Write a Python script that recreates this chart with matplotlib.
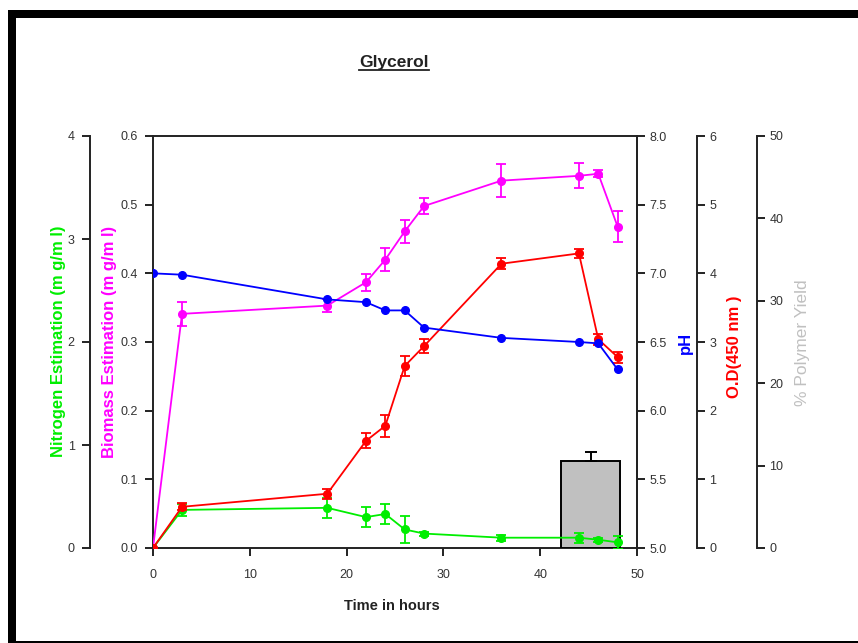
import matplotlib
matplotlib.use("Agg")
import matplotlib.pyplot as plt
from matplotlib.lines import Line2D
from matplotlib.patches import Rectangle

plt.rcParams['font.family'] = ['Liberation Sans', 'DejaVu Sans']

# ---------------- data ----------------
time_h = [0, 3, 18, 22, 24, 26, 28, 36, 44, 46, 48]

biomass = [0.0, 0.341, 0.353, 0.387, 0.420, 0.461, 0.498, 0.535, 0.542, 0.545, 0.468]
biomass_err = [0.0, 0.017, 0.010, 0.012, 0.017, 0.017, 0.011, 0.024, 0.018, 0.005, 0.023]

ph = [7.00, 6.99, 6.81, 6.79, 6.73, 6.73, 6.605, 6.53, 6.50, 6.49, 6.30]

od = [0.0, 0.60, 0.79, 1.56, 1.78, 2.65, 2.94, 4.14, 4.29, 3.04, 2.78]
od_err = [0.0, 0.05, 0.07, 0.11, 0.16, 0.15, 0.10, 0.08, 0.07, 0.08, 0.08]

nitrogen = [0.0, 0.37, 0.39, 0.30, 0.33, 0.18, 0.14, 0.10, 0.10, 0.08, 0.055]
nitrogen_err = [0.0, 0.055, 0.10, 0.10, 0.10, 0.13, 0.02, 0.03, 0.05, 0.02, 0.06]

polymer_time = [45.2]
polymer_yield = [10.5]
polymer_err = [1.15]
polymer_width = 6.0

x_ticks = [0, 10, 20, 30, 40, 50]
biomass_ticks = [0.0, 0.1, 0.2, 0.3, 0.4, 0.5, 0.6]
nitrogen_ticks = [0, 1, 2, 3, 4]
ph_ticks = [5.0, 5.5, 6.0, 6.5, 7.0, 7.5, 8.0]
od_ticks = [0, 1, 2, 3, 4, 5, 6]
polymer_ticks = [0, 10, 20, 30, 40, 50]

# ---------------- figure ----------------
W, H = 858, 643
fig = plt.figure(figsize=(W / 100, H / 100), dpi=100)
fig.patch.set_facecolor('white')

# window-like black frame (top, left thick; bottom thin)
fig.add_artist(Rectangle((8 / W, 1 - 18 / H), 1 - 8 / W, 8 / H, transform=fig.transFigure,
                         facecolor='black', edgecolor='none'))
fig.add_artist(Rectangle((8 / W, 0), 8 / W, 1 - 10 / H, transform=fig.transFigure,
                         facecolor='black', edgecolor='none'))
fig.add_artist(Rectangle((8 / W, 0), 1 - 8 / W, 2.5 / H, transform=fig.transFigure,
                         facecolor='black', edgecolor='none'))

left, right, bottom, top = 153, 637, 548, 136
ax = fig.add_axes([left / W, 1 - bottom / H, (right - left) / W, (bottom - top) / H])
axw = right - left

tick_color = '#333333'
spine_lw = 1.4
tick_fs = 9


def style_axis(a, side, pad=5):
    a.tick_params(axis='y', direction='out', length=6, width=1.4, colors=tick_color,
                  labelsize=tick_fs, pad=pad, left=(side == 'left'), labelleft=(side == 'left'),
                  right=(side == 'right'), labelright=(side == 'right'))
    a.tick_params(axis='y', color='#222222')


# main axis: biomass
ax.set_xlim(0, 50)
ax.set_ylim(0, 0.6)
ax.set_xticks(x_ticks)
ax.set_yticks(biomass_ticks)
ax.set_yticklabels(['%.1f' % v for v in biomass_ticks])
ax.tick_params(axis='x', direction='out', length=6, width=1.4, color='#222222',
               labelcolor=tick_color, labelsize=tick_fs, pad=9)
style_axis(ax, 'left')
for s in ax.spines.values():
    s.set_linewidth(spine_lw)
    s.set_color('#222222')

# polymer axis (bar, beneath other lines)
axp = ax.twinx()
axp.set_ylim(0, 50)
axp.set_yticks(polymer_ticks)
axp.spines['right'].set_position(('axes', (757 - left) / axw))
for k in ['left', 'top', 'bottom']:
    axp.spines[k].set_visible(False)
axp.spines['right'].set_linewidth(spine_lw)
axp.spines['right'].set_color('#222222')
style_axis(axp, 'right', pad=3)
axp.bar(polymer_time, polymer_yield, width=polymer_width, color='#c0c0c0',
        edgecolor='black', linewidth=1.4, zorder=1)
axp.errorbar(polymer_time, polymer_yield, yerr=[[0], polymer_err], fmt='none',
             ecolor='black', elinewidth=1.4, capsize=4, capthick=1.4, zorder=2)

# nitrogen axis (outer left)
axn = ax.twinx()
axn.set_ylim(0, 4)
axn.set_yticks(nitrogen_ticks)
axn.spines['left'].set_visible(True)
axn.spines['left'].set_position(('axes', (90 - left) / axw))
for k in ['right', 'top', 'bottom']:
    axn.spines[k].set_visible(False)
axn.spines['left'].set_linewidth(spine_lw)
axn.spines['left'].set_color('#222222')
axn.yaxis.set_label_position('left')
axn.yaxis.set_ticks_position('left')
style_axis(axn, 'left')

# OD axis
axo = ax.twinx()
axo.set_ylim(0, 6)
axo.set_yticks(od_ticks)
axo.spines['right'].set_position(('axes', (697 - left) / axw))
for k in ['left', 'top', 'bottom']:
    axo.spines[k].set_visible(False)
axo.spines['right'].set_linewidth(spine_lw)
axo.spines['right'].set_color('#222222')
style_axis(axo, 'right', pad=3)

# pH axis (right spine of main box)
axh = ax.twinx()
axh.set_ylim(5.0, 8.0)
axh.set_yticks(ph_ticks)
axh.set_yticklabels(['%.1f' % v for v in ph_ticks])
for k in ['left', 'top', 'bottom']:
    axh.spines[k].set_visible(False)
axh.spines['right'].set_linewidth(spine_lw)
axh.spines['right'].set_color('#222222')
style_axis(axh, 'right', pad=3)

mk = dict(marker='o', markersize=5.5, linewidth=1.3, capsize=3.5, elinewidth=1.3, capthick=1.3)

ax.errorbar(time_h, biomass, yerr=biomass_err, color='#ff00ff', zorder=3, **mk)
axn.errorbar(time_h, nitrogen, yerr=nitrogen_err, color='#00ee00', zorder=3, **mk)
axo.errorbar(time_h, od, yerr=od_err, color='#ff0000', zorder=3, **mk)
axh.plot(time_h, ph, color='#0000ff', marker='o', markersize=5.5, linewidth=1.3, zorder=3)

for a in (axp, axn, axo, axh):
    a.set_xlim(0, 50)

# axis labels
lab_fs = 12
fig.text(58 / W, 1 - 341 / H, 'Nitrogen Estimation (m g/m l)', color='#00ee00', rotation=90,
         ha='center', va='center', fontsize=lab_fs, fontweight='bold')
fig.text(110 / W, 1 - 342 / H, 'Biomass Estimation (m g/m l)', color='#ff00ff', rotation=90,
         ha='center', va='center', fontsize=lab_fs, fontweight='bold')
fig.text(685 / W, 1 - 343 / H, 'pH', color='#0000ff', rotation=90,
         ha='center', va='center', fontsize=lab_fs, fontweight='bold')
fig.text(735 / W, 1 - 347 / H, 'O.D(450 nm )', color='#ff0000', rotation=90,
         ha='center', va='center', fontsize=lab_fs, fontweight='bold')
fig.text(802 / W, 1 - 343 / H, '% Polymer Yield', color='#c0c0c0', rotation=90,
         ha='center', va='center', fontsize=12.5)

fig.text(392 / W, 1 - 606 / H, 'Time in hours', color='#222222', ha='center', va='center',
         fontsize=10.5, fontweight='bold')

title = fig.text(394 / W, 1 - 63 / H, 'Glycerol', color='#222222', ha='center', va='center',
                 fontsize=12.5, fontweight='bold')
fig.canvas.draw()
bb = title.get_window_extent()
inv = fig.transFigure.inverted()
(x0, y0), (x1, _) = inv.transform([(bb.x0, bb.y0 + 1), (bb.x1, bb.y0 + 1)])
fig.add_artist(Line2D([x0, x1], [y0, y0], transform=fig.transFigure, color='#222222', linewidth=1.3))

fig.savefig('out.png', dpi=100)
